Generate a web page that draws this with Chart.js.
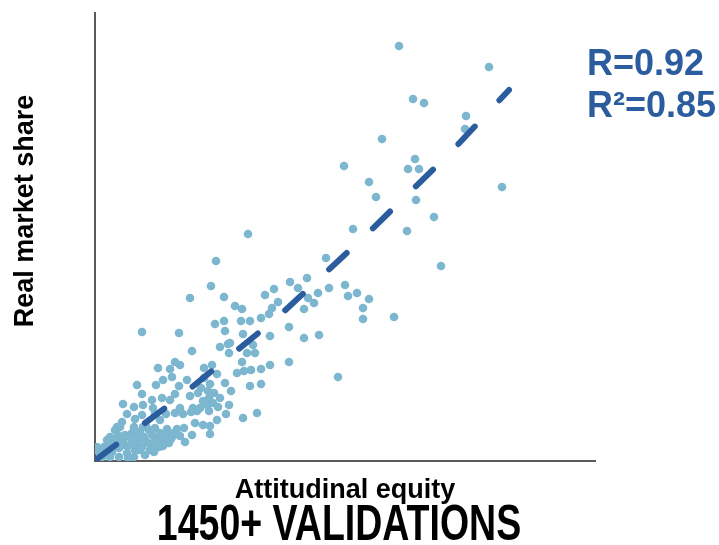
<!DOCTYPE html>
<html>
<head>
<meta charset="utf-8">
<title>1450+ validations</title>
<script src="https://cdn.jsdelivr.net/npm/chart.js@4.4.0/dist/chart.umd.min.js"></script>
<style>
  html, body { margin: 0; padding: 0; background: #ffffff; }
  #wrap { position: relative; width: 719px; height: 545px; }
</style>
</head>
<body>
<div id="wrap"><canvas id="validationChart"></canvas></div>
<script>
// -------------------------------------------------------------------
// Data (index units, no tick labels shown)
// -------------------------------------------------------------------
const equityX = [
  304, 394, 318, 329, 371, 370, 287, 249, 320, 313, 324, 274, 281, 321, 407, 339, 258, 312, 153, 346,
  231, 195, 212, 203, 179, 170, 234, 223, 213, 219, 250, 253, 262, 274, 268, 268, 299, 183, 177, 174,
  166, 209, 194, 175, 209, 224, 140, 147, 146, 155, 148, 135, 158, 152, 160, 147, 194, 175, 166, 142,
  149, 156, 243, 155, 166,
  121, 116, 95, 129, 47, 84, 120, 129, 130, 97, 125, 133, 134, 80, 85, 63, 75, 77, 109, 117,
  122, 42, 61, 92, 109, 68, 84, 115, 106, 113, 119, 130, 136, 47, 57, 67, 75, 80, 95, 103,
  108, 114, 118, 125, 134, 98, 123, 112, 28, 39, 48, 58, 32, 40, 47, 60, 71, 80, 88, 96,
  102, 65, 114, 131, 148, 162, 27, 39, 51, 37, 72, 82, 89, 100, 108, 115, 122, 65, 76, 85,
  97, 115, 90, 62, 44, 85, 105, 22, 48, 60,
  4, 9, 7, 15, 17, 22, 24, 29, 30, 32, 37, 40, 44, 47, 52, 55, 60, 64, 69, 74,
  20, 25, 30, 45, 54, 72, 77, 80, 12, 2, 15, 24, 39, 50, 57, 5, 11, 18, 26, 33,
  41, 49, 35, 23, 9, 55, 63, 68, 59, 33, 43, 15
];
const shareY = [
  415, 394, 362, 358, 345, 332, 322, 295, 302, 292, 292, 279, 264, 261, 274, 244, 232, 230, 227, 195,
  203, 179, 183, 173, 172, 166, 173, 168, 163, 158, 176, 165, 168, 162, 153, 142, 144, 159, 153, 147,
  143, 152, 134, 125, 123, 126, 155, 152, 140, 140, 127, 118, 116, 108, 108, 99, 99, 96, 92, 88,
  90, 91, 84, 75, 77,
  200, 175, 163, 164, 129, 128, 137, 140, 130, 110, 114, 117, 108, 99, 96, 93, 92, 84, 93, 96,
  87, 76, 76, 81, 83, 81, 75, 77, 73, 70, 68, 78, 70, 67, 61, 63, 61, 67, 65, 68,
  60, 63, 58, 63, 56, 53, 54, 56, 57, 54, 56, 53, 47, 42, 46, 47, 47, 48, 47, 49,
  50, 41, 50, 47, 43, 48, 39, 34, 35, 28, 32, 32, 33, 38, 36, 35, 41, 28, 22, 25,
  26, 27, 19, 14, 11, 53, 53, 34, 34, 33,
  9, 14, 4, 18, 9, 21, 13, 23, 16, 8, 19, 11, 21, 14, 19, 11, 23, 14, 23, 18,
  31, 34, 26, 29, 31, 28, 24, 29, 21, 14, 4, 4, 4, 6, 26, 3, 9, 14, 18, 15,
  17, 24, 24, 26, 6, 17, 20, 15, 9, 3, 25, 24
];

// fitted trend (slightly convex in the reference)
const fitX = [2, 86, 183, 271, 355, 414];
const fitY = [2, 65, 144, 226, 308, 371];

const xRange = [0, 500];
const yRange = [0, 448];

const statLines = ['R=0.92', 'R\u00b2=0.85'];
const xTitle = 'Attitudinal equity';
const yTitle = 'Real market share';
const bottomTitle = '1450+ VALIDATIONS';

const FONT = '"Liberation Sans", Arial, Helvetica, sans-serif';
const POINT_COLOR = '#7db6cf';
const FIT_COLOR = '#2a5c9e';
const AXIS_COLOR = '#5a5a5a';

/**
 * Texts: rotated y title, x title, the R block and the condensed bottom title
 */
const chartTexts = {
    id: 'chartTexts',
    afterDraw(chart) {
        const ctx = chart.ctx;
        const area = chart.chartArea;
        ctx.save();
        ctx.textBaseline = 'alphabetic';

        // y axis title
        ctx.fillStyle = '#000000';
        ctx.font = 'bold 27px ' + FONT;
        ctx.textAlign = 'center';
        ctx.save();
        ctx.translate(area.left - 62, area.top + 198);
        ctx.rotate(-Math.PI / 2);
        ctx.fillText(yTitle, 0, 0);
        ctx.restore();

        // x axis title
        ctx.fillText(xTitle, (area.left + area.right) / 2, area.bottom + 37);

        // bottom title, horizontally condensed
        ctx.save();
        ctx.translate(339, area.bottom + 79);
        ctx.scale(0.75, 1);
        ctx.font = 'bold 50px ' + FONT;
        ctx.fillText(bottomTitle, 0, 0);
        ctx.restore();

        // correlation block
        ctx.fillStyle = FIT_COLOR;
        ctx.font = 'bold 36px ' + FONT;
        ctx.textAlign = 'left';
        ctx.fillText(statLines[0], area.right - 8, 75);
        ctx.fillText(statLines[1], area.right - 8, 117);

        ctx.restore();
    }
};

function initValidationChart() {
    const ctx = document.getElementById('validationChart');
    if (!ctx) return;

    new Chart(ctx.getContext('2d'), {
        type: 'scatter',
        data: {
            datasets: [{
                // first dataset is painted last, so the trend sits over the dots
                label: 'Trend',
                data: fitX.map((x, i) => ({ x: x, y: fitY[i] })),
                showLine: true,
                borderColor: FIT_COLOR,
                borderWidth: 6,
                borderDash: [24, 36],
                borderCapStyle: 'round',
                borderJoinStyle: 'round',
                pointRadius: 0,
                fill: false
            }, {
                label: 'Validations',
                data: equityX.map((x, i) => ({ x: x, y: shareY[i] })),
                backgroundColor: POINT_COLOR,
                borderWidth: 0,
                pointRadius: 4.3,
                pointHoverRadius: 4.3
            }]
        },
        options: {
            responsive: true,
            maintainAspectRatio: false,
            animation: false,
            events: [],
            layout: {
                padding: { left: 95, top: 13, right: 124, bottom: 84 }
            },
            plugins: {
                legend: { display: false },
                tooltip: { enabled: false }
            },
            scales: {
                x: {
                    type: 'linear',
                    min: xRange[0],
                    max: xRange[1],
                    z: 1,
                    ticks: { display: false },
                    grid: { display: false, drawTicks: false },
                    border: { display: true, color: AXIS_COLOR, width: 2 }
                },
                y: {
                    type: 'linear',
                    min: yRange[0],
                    max: yRange[1],
                    z: 1,
                    ticks: { display: false },
                    grid: { display: false, drawTicks: false },
                    border: { display: true, color: AXIS_COLOR, width: 2 }
                }
            }
        },
        plugins: [chartTexts]
    });
}

document.addEventListener('DOMContentLoaded', initValidationChart);
</script>
</body>
</html>
